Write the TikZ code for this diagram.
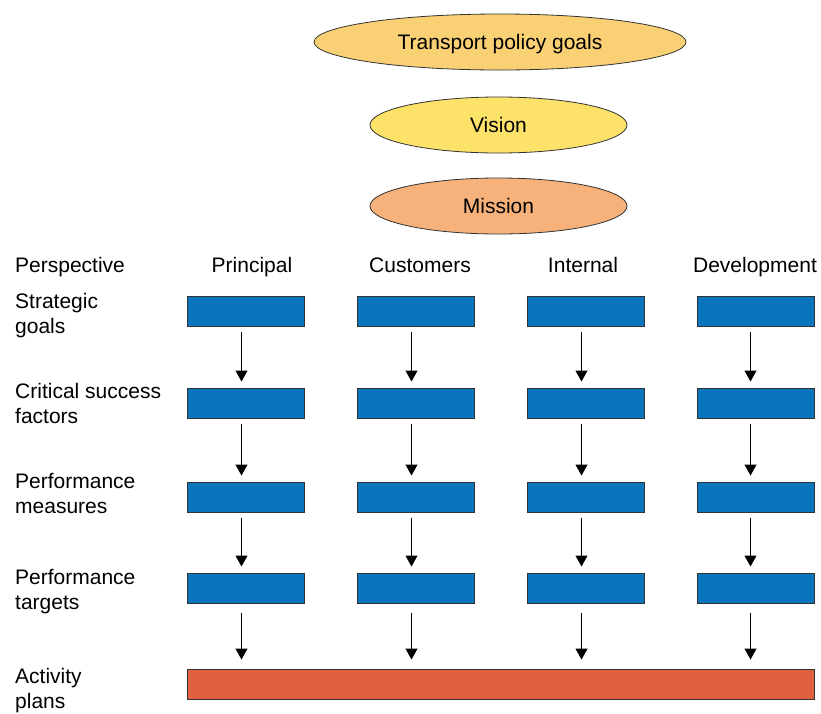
\documentclass[tikz,border=0pt]{standalone}
\usepackage{fontspec}
\setmainfont{Liberation Sans}
\usetikzlibrary{shapes.geometric,arrows.meta}
\definecolor{tpgcol}{HTML}{FAD074}
\definecolor{viscol}{HTML}{FDE26A}
\definecolor{miscol}{HTML}{F6B27A}
\definecolor{boxblue}{HTML}{0A74BC}
\definecolor{boxred}{HTML}{E0603F}
\definecolor{edgecol}{HTML}{333333}
\tikzset{
  goal/.style={ellipse,draw=edgecol,line width=0.8pt,inner sep=0pt,
    minimum height=56pt,text height=15pt,text depth=0pt},
  bluebox/.style={rectangle,draw=edgecol,line width=1pt,fill=boxblue,
    minimum width=117pt,minimum height=30pt,inner sep=0pt},
  redbox/.style={rectangle,draw=edgecol,line width=1pt,fill=boxred,
    minimum width=627pt,minimum height=30pt,inner sep=0pt},
  txt/.style={inner sep=0pt,font=\fontsize{21}{25}\selectfont},
  lbl/.style={txt,anchor=base west,align=left},
  hdr/.style={txt,anchor=base},
  flow/.style={draw=black,line width=1pt,-{Triangle[length=11pt,width=12pt]}}
}
\begin{document}
\begin{tikzpicture}[x=1pt,y=-1pt]
\useasboundingbox (0,0) rectangle (821,713);
\node[goal,fill=tpgcol,minimum width=372pt,font=\fontsize{21}{25}\selectfont] (tpg) at (500,42) {Transport policy goals};
\node[goal,fill=viscol,minimum width=257pt,font=\fontsize{21}{25}\selectfont] (vis) at (498.5,125) {Vision};
\node[goal,fill=miscol,minimum width=257pt,font=\fontsize{21}{25}\selectfont] (mis) at (498.5,206) {Mission};

\node[lbl] (persp) at (15,272) {Perspective};
\node[hdr] (h1) at (252,272) {Principal};
\node[hdr] (h2) at (420,272) {Customers};
\node[hdr] (h3) at (583,272) {Internal};
\node[hdr] (h4) at (755,272) {Development};

% base anchor of a multi-line node is the baseline of its last line
\node[lbl] (l1) at (15,333) {Strategic\\goals};
\node[lbl] (l2) at (15,423) {Critical success\\factors};
\node[lbl] (l3) at (15,513) {Performance\\measures};
\node[lbl] (l4) at (15,609) {Performance\\targets};
\node[lbl] (l5) at (15,708) {Activity\\plans};

\foreach \c/\x in {1/245.5,2/415.5,3/585.5,4/755.5}{
  \node[bluebox] (b1\c) at (\x,311) {};
  \node[bluebox] (b2\c) at (\x,403) {};
  \node[bluebox] (b3\c) at (\x,497) {};
  \node[bluebox] (b4\c) at (\x,588) {};
}
\node[redbox] (act) at (500.5,684) {};

\foreach \c/\d in {1/-4,2/-4,3/-4,4/-5}{
  \draw[flow,shorten <=5pt,shorten >=6pt] ([xshift=\d pt]b1\c.south) -- ([xshift=\d pt]b2\c.north);
  \draw[flow,shorten <=5pt,shorten >=6pt] ([xshift=\d pt]b2\c.south) -- ([xshift=\d pt]b3\c.north);
  \draw[flow,shorten <=5pt,shorten >=6pt] ([xshift=\d pt]b3\c.south) -- ([xshift=\d pt]b4\c.north);
  \draw[flow,shorten <=9pt,shorten >=9pt] ([xshift=\d pt]b4\c.south) -- ([xshift=\d pt]b4\c.south |- act.north);
}
\end{tikzpicture}
\end{document}
